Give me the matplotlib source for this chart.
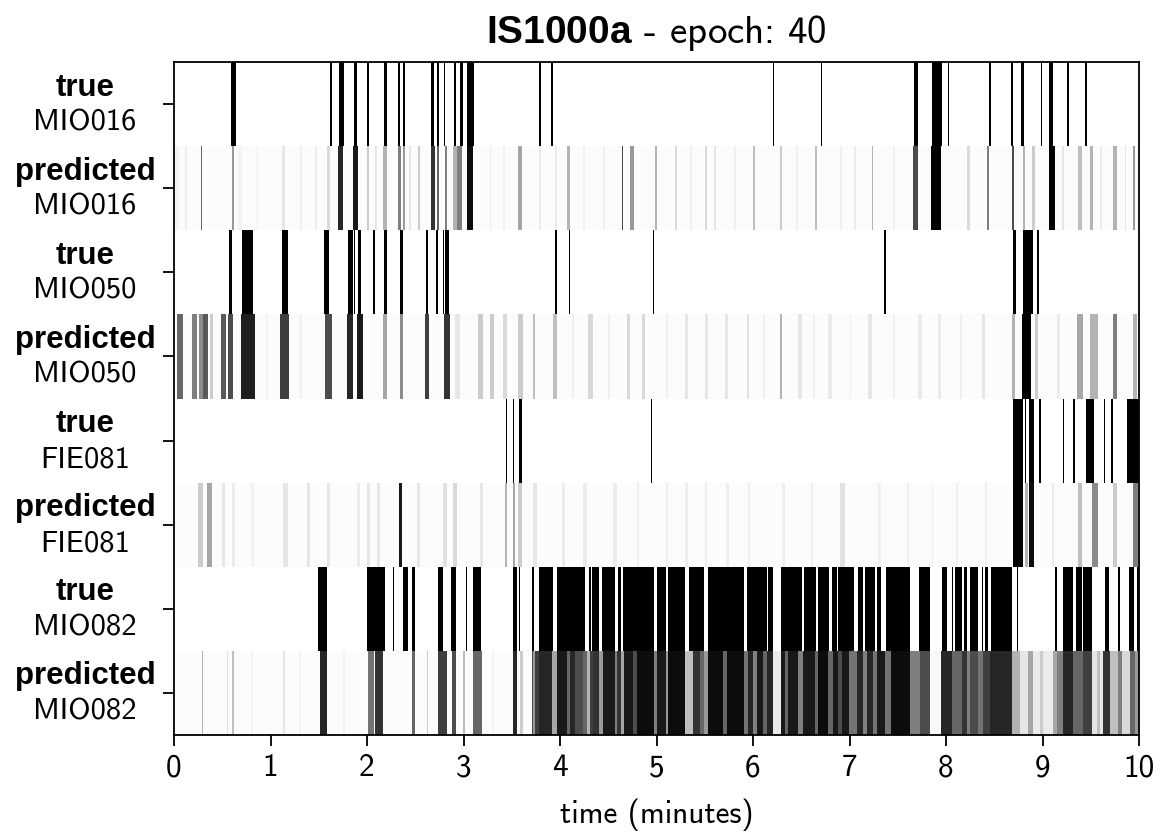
import matplotlib
matplotlib.use("Agg")
import matplotlib.pyplot as plt
from matplotlib.transforms import blended_transform_factory, offset_copy

plt.rcParams.update({
    "font.family": "cmss10",
    "mathtext.fontset": "custom",
    "mathtext.rm": "cmss10",
    "mathtext.bf": "Liberation Sans:bold",
    "axes.unicode_minus": False,
    "axes.formatter.use_mathtext": True,
})

# ---------------------------------------------------------------- data
meeting = "IS1000a"
epoch = 40
speakers = ["MIO016", "MIO050", "FIE081", "MIO082"]

# ground-truth speech activity: (start, end) in minutes
true_MIO016 = [(0.59, 0.638), (1.617, 1.637), (1.713, 1.762), (1.862, 1.90), (2.003, 2.024),
               (2.18, 2.204), (2.321, 2.342), (2.373, 2.394), (2.538, 2.544), (2.667, 2.694),
               (2.729, 2.749), (2.802, 2.808), (2.905, 2.922), (2.961, 2.992), (3.033, 3.109),
               (3.786, 3.803), (3.91, 3.93), (6.21, 6.22), (6.70, 6.712), (7.665, 7.71),
               (7.852, 7.962), (8.02, 8.027), (8.446, 8.466), (8.674, 8.697), (8.777, 8.805),
               (8.985, 8.993), (9.067, 9.112), (9.254, 9.278), (9.44, 9.464)]
true_MIO050 = [(0.573, 0.601), (0.70, 0.822), (1.116, 1.178), (1.551, 1.61), (1.806, 1.852),
               (1.866, 1.872), (1.91, 1.938), (2.065, 2.083), (2.18, 2.204), (2.342, 2.37),
               (2.611, 2.635), (2.715, 2.733), (2.786, 2.796), (2.81, 2.846), (3.948, 3.966),
               (4.095, 4.101), (4.96, 4.977), (7.358, 7.375), (8.698, 8.722), (8.80, 8.905),
               (8.94, 8.964), (9.726, 9.733)]
true_FIE081 = [(3.44, 3.45), (3.515, 3.521), (3.575, 3.603), (4.943, 4.953), (8.698, 8.80),
               (8.822, 8.828), (8.86, 8.912), (8.968, 8.985), (9.209, 9.226), (9.32, 9.34),
               (9.45, 9.53), (9.634, 9.648), (9.71, 9.73), (9.876, 10.0)]
true_MIO082 = [(1.496, 1.589), (2.003, 2.187), (2.266, 2.277), (2.377, 2.422), (2.463, 2.497),
               (2.739, 2.784), (2.87, 2.922), (3.022, 3.033), (3.102, 3.181), (3.516, 3.557),
               (3.579, 3.584), (3.707, 3.734), (3.748, 3.755), (3.786, 3.924), (3.972, 4.259),
               (4.288, 4.293), (4.304, 4.318), (4.335, 4.407), (4.432, 4.57), (4.596, 4.63),
               (4.656, 4.974), (5.009, 5.098), (5.123, 5.295), (5.337, 5.492), (5.537, 5.91),
               (5.935, 6.142), (6.158, 6.21), (6.29, 6.505), (6.528, 6.653), (6.677, 6.791),
               (6.815, 6.867), (6.884, 7.047), (7.092, 7.137), (7.161, 7.264), (7.282, 7.323),
               (7.375, 7.627), (7.654, 7.659), (7.72, 7.834), (7.955, 8.007), (8.059, 8.076),
               (8.094, 8.163), (8.187, 8.214), (8.249, 8.335), (8.37, 8.387), (8.404, 8.439),
               (8.463, 8.681), (8.713, 8.718), (8.732, 8.749), (8.878, 8.886), (8.92, 8.927),
               (9.13, 9.147), (9.209, 9.32), (9.347, 9.406), (9.423, 9.51), (9.648, 9.693),
               (9.786, 9.803), (9.9, 9.948), (9.976, 10.0)]

# network output: (start, end, probability) in minutes, on a faint base level
pred_base = 0.015
pred_MIO016 = [(0.0, 0.05, 0.05), (0.11, 0.13, 0.07), (0.276, 0.294, 0.6), (0.601, 0.618, 0.4),
               (0.66, 0.70, 0.05), (0.85, 0.87, 0.04), (1.116, 1.15, 0.1), (1.31, 1.33, 0.06),
               (1.46, 1.48, 0.07), (1.582, 1.617, 0.15), (1.703, 1.755, 0.85), (1.851, 1.91, 0.9),
               (1.996, 2.024, 0.2), (2.08, 2.10, 0.1), (2.169, 2.204, 0.3), (2.318, 2.349, 0.5),
               (2.376, 2.394, 0.4), (2.44, 2.46, 0.1), (2.532, 2.549, 0.2), (2.66, 2.705, 0.8),
               (2.722, 2.749, 0.6), (2.808, 2.832, 0.5), (2.895, 2.929, 0.3), (2.936, 2.984, 0.5),
               (3.033, 3.102, 0.95), (3.27, 3.29, 0.08), (3.41, 3.43, 0.06), (3.568, 3.603, 0.35),
               (3.78, 3.80, 0.08), (3.95, 3.97, 0.08), (4.07, 4.104, 0.3), (4.24, 4.26, 0.06),
               (4.45, 4.47, 0.06), (4.64, 4.656, 0.7), (4.725, 4.767, 0.4), (4.984, 5.0, 0.3),
               (5.192, 5.209, 0.15), (5.35, 5.37, 0.06), (5.503, 5.52, 0.15), (5.6, 5.612, 0.1),
               (5.80, 5.82, 0.06), (6.003, 6.02, 0.25), (6.279, 6.297, 0.2), (6.45, 6.47, 0.06),
               (6.642, 6.659, 0.25), (6.90, 6.92, 0.06), (7.05, 7.07, 0.08), (7.23, 7.247, 0.3),
               (7.45, 7.47, 0.06), (7.661, 7.713, 0.7), (7.845, 7.948, 1.0), (8.214, 8.249, 0.15),
               (8.421, 8.446, 0.5), (8.681, 8.709, 0.7), (8.802, 8.819, 0.3), (8.888, 8.923, 0.2),
               (9.067, 9.13, 1.0), (9.20, 9.22, 0.1), (9.371, 9.406, 0.25), (9.492, 9.526, 0.3),
               (9.60, 9.62, 0.08), (9.733, 9.768, 0.3), (9.85, 9.87, 0.1), (9.94, 9.959, 0.4)]
pred_MIO050 = [(0.035, 0.09, 0.6), (0.183, 0.242, 0.5), (0.262, 0.297, 0.45), (0.304, 0.356, 0.65),
               (0.373, 0.401, 0.2), (0.484, 0.539, 0.65), (0.563, 0.615, 0.7), (0.694, 0.839, 0.88),
               (0.95, 0.97, 0.05), (1.098, 1.195, 0.75), (1.30, 1.33, 0.05), (1.565, 1.634, 0.7),
               (1.789, 1.851, 0.85), (1.9, 1.962, 0.9), (2.169, 2.204, 0.35), (2.342, 2.376, 0.45),
               (2.601, 2.646, 0.75), (2.798, 2.86, 0.8), (2.912, 2.964, 0.1), (3.154, 3.206, 0.2),
               (3.275, 3.316, 0.2), (3.413, 3.447, 0.15), (3.568, 3.62, 0.2), (3.716, 3.741, 0.25),
               (3.931, 3.965, 0.25), (4.12, 4.15, 0.06), (4.294, 4.345, 0.15), (4.50, 4.52, 0.06),
               (4.691, 4.725, 0.15), (4.846, 4.881, 0.15), (5.10, 5.12, 0.06), (5.295, 5.33, 0.1),
               (5.503, 5.537, 0.1), (5.71, 5.744, 0.1), (5.934, 5.958, 0.12), (6.10, 6.12, 0.06),
               (6.279, 6.304, 0.3), (6.47, 6.504, 0.1), (6.62, 6.64, 0.06), (6.781, 6.815, 0.08),
               (7.0, 7.02, 0.06), (7.195, 7.23, 0.1), (7.45, 7.47, 0.06), (7.713, 7.748, 0.08),
               (7.92, 7.95, 0.08), (8.15, 8.17, 0.06), (8.37, 8.4, 0.1), (8.681, 8.715, 0.3),
               (8.785, 8.88, 1.0), (8.923, 8.958, 0.2), (9.15, 9.18, 0.08), (9.354, 9.423, 0.35),
               (9.492, 9.578, 0.3), (9.733, 9.768, 0.5), (9.94, 9.976, 0.3)]
pred_FIE081 = [(0.252, 0.304, 0.2), (0.345, 0.39, 0.35), (0.494, 0.529, 0.1), (0.598, 0.632, 0.08),
               (0.80, 0.83, 0.05), (1.133, 1.185, 0.1), (1.375, 1.409, 0.1), (1.582, 1.617, 0.1),
               (1.893, 1.927, 0.08), (1.996, 2.031, 0.1), (2.1, 2.135, 0.1), (2.328, 2.366, 0.9),
               (2.515, 2.549, 0.1), (2.791, 2.825, 0.12), (2.895, 2.929, 0.15), (3.171, 3.206, 0.1),
               (3.43, 3.454, 0.3), (3.51, 3.534, 0.35), (3.568, 3.603, 0.2), (3.724, 3.758, 0.1),
               (4.018, 4.052, 0.08), (4.241, 4.276, 0.08), (4.553, 4.587, 0.08), (4.80, 4.82, 0.06),
               (5.1, 5.12, 0.07), (5.3, 5.33, 0.07), (5.5, 5.52, 0.07), (5.72, 5.75, 0.07),
               (5.95, 5.97, 0.07), (6.3, 6.33, 0.07), (6.6, 6.62, 0.06), (6.902, 6.953, 0.12),
               (7.3, 7.33, 0.06), (7.6, 7.62, 0.06), (7.85, 7.87, 0.06), (8.1, 8.12, 0.06),
               (8.4, 8.42, 0.06), (8.698, 8.8, 1.0), (8.819, 8.853, 0.3), (8.86, 8.915, 0.95),
               (9.1, 9.12, 0.08), (9.371, 9.406, 0.25), (9.509, 9.578, 0.45), (9.733, 9.768, 0.2),
               (9.94, 9.99, 0.5)]
pred_MIO082 = [(0.287, 0.304, 0.3), (0.546, 0.563, 0.12), (0.598, 0.622, 0.25), (0.80, 0.82, 0.05),
               (1.133, 1.15, 0.1), (1.30, 1.32, 0.05), (1.513, 1.582, 0.85), (1.75, 1.77, 0.06),
               (2.014, 2.073, 0.55), (2.083, 2.169, 0.8), (2.463, 2.497, 0.6), (2.618, 2.636, 0.2),
               (2.739, 2.825, 0.75), (2.878, 2.922, 0.7), (2.99, 3.02, 0.25), (3.1, 3.188, 0.6),
               (3.30, 3.32, 0.05), (3.516, 3.551, 0.85), (3.585, 3.62, 0.2), (3.707, 3.724, 0.7),
               (3.724, 3.741, 0.4), (3.741, 3.786, 0.75), (3.786, 3.914, 0.85), (3.914, 3.965, 0.35),
               (3.965, 4.069, 0.9), (4.069, 4.104, 0.6), (4.104, 4.156, 0.85), (4.156, 4.242, 0.7),
               (4.242, 4.283, 0.6), (4.283, 4.311, 0.3), (4.311, 4.345, 0.75), (4.345, 4.407, 0.8),
               (4.407, 4.449, 0.4), (4.449, 4.57, 0.9), (4.57, 4.594, 0.5), (4.594, 4.629, 0.8),
               (4.629, 4.663, 0.35), (4.663, 4.76, 0.9), (4.76, 4.795, 0.7), (4.795, 4.974, 0.95),
               (4.974, 5.002, 0.5), (5.002, 5.098, 0.9), (5.098, 5.123, 0.4), (5.123, 5.295, 0.95),
               (5.295, 5.382, 0.25), (5.382, 5.451, 0.8), (5.451, 5.492, 0.6), (5.492, 5.537, 0.4),
               (5.537, 5.692, 0.95), (5.692, 5.727, 0.6), (5.727, 5.91, 0.95), (5.91, 5.951, 0.55),
               (5.951, 6.003, 0.85), (6.003, 6.038, 0.5), (6.038, 6.107, 0.9), (6.107, 6.142, 0.6),
               (6.142, 6.211, 0.85), (6.211, 6.291, 0.08), (6.291, 6.332, 0.9), (6.332, 6.367, 0.6),
               (6.367, 6.47, 0.9), (6.47, 6.522, 0.5), (6.522, 6.643, 0.9), (6.643, 6.678, 0.6),
               (6.678, 6.781, 0.95), (6.781, 6.833, 0.6), (6.833, 6.884, 0.9), (6.884, 6.919, 0.7),
               (6.919, 6.998, 0.9), (6.998, 7.074, 0.55), (7.074, 7.143, 0.85), (7.143, 7.178, 0.5),
               (7.178, 7.247, 0.85), (7.247, 7.282, 0.55), (7.282, 7.368, 0.9), (7.368, 7.427, 0.55),
               (7.427, 7.627, 0.95), (7.627, 7.731, 0.5), (7.731, 7.834, 0.7), (7.834, 7.945, 0.03),
               (7.945, 8.059, 0.85), (8.059, 8.163, 0.6), (8.163, 8.214, 0.8), (8.214, 8.249, 0.5),
               (8.249, 8.335, 0.7), (8.335, 8.387, 0.55), (8.387, 8.456, 0.75), (8.456, 8.681, 0.85),
               (8.681, 8.767, 0.3), (8.767, 8.853, 0.1), (8.853, 8.905, 0.35), (8.905, 8.974, 0.08),
               (8.974, 9.009, 0.2), (9.009, 9.112, 0.08), (9.112, 9.147, 0.35), (9.147, 9.209, 0.5),
               (9.209, 9.32, 0.85), (9.32, 9.423, 0.6), (9.423, 9.51, 0.75), (9.51, 9.561, 0.1),
               (9.561, 9.596, 0.25), (9.596, 9.63, 0.1), (9.63, 9.699, 0.8), (9.699, 9.786, 0.25),
               (9.786, 9.821, 0.5), (9.821, 9.907, 0.15), (9.907, 9.959, 0.6), (9.959, 10.0, 0.4)]

true_rows = [true_MIO016, true_MIO050, true_FIE081, true_MIO082]
pred_rows = [pred_MIO016, pred_MIO050, pred_FIE081, pred_MIO082]
row_kinds = ["true", "predicted"]
x_ticks = list(range(0, 11))

# ---------------------------------------------------------------- figure
fig = plt.figure(figsize=(11.73, 8.34), dpi=100)
ax = fig.add_axes([174 / 1173, 1 - 735 / 834, 965 / 1173, 673 / 834])
cmap = plt.get_cmap("gray_r")

n_rows = 2 * len(speakers)
ytick_pos, ytick_names = [], []
for k, spk in enumerate(speakers):
    # true strip
    y0 = n_rows - 1 - 2 * k
    segs = true_rows[k]
    ax.broken_barh([(s, e - s) for s, e in segs], (y0, 1),
                   facecolors="black", linewidth=0)
    ytick_pos.append(y0 + 0.5)
    ytick_names.append((row_kinds[0], spk))

    # predicted strip
    y1 = y0 - 1
    ax.broken_barh([(0, 10)], (y1, 1), facecolors=[cmap(pred_base)], linewidth=0)
    segs = pred_rows[k]
    ax.broken_barh([(s, e - s) for s, e, _ in segs], (y1, 1),
                   facecolors=[cmap(v) for _, _, v in segs], linewidth=0)
    ytick_pos.append(y1 + 0.5)
    ytick_names.append((row_kinds[1], spk))

ax.set_xlim(0, 10)
ax.set_ylim(0, n_rows)
ax.set_xticks(x_ticks)
ax.set_xticklabels([str(t) for t in x_ticks])
ax.set_yticks(ytick_pos)
ax.set_yticklabels([])

ax.tick_params(axis="both", labelsize=22.5, length=8, width=1.3)
ax.tick_params(axis="x", pad=5)
for sp in ax.spines.values():
    sp.set_linewidth(1.3)

# two-line row labels: bold kind above, speaker id below
lab_x = 85 / 1173
base = blended_transform_factory(fig.transFigure, ax.transData)
top_tr = offset_copy(base, fig=fig, x=0, y=8.5, units="dots")
bot_tr = offset_copy(base, fig=fig, x=0, y=-26.5, units="dots")
for yp, (kind, spk) in zip(ytick_pos, ytick_names):
    ax.text(lab_x, yp, kind, transform=top_tr, ha="center", va="baseline",
            fontsize=22.5, family="Liberation Sans", weight="bold", clip_on=False)
    ax.text(lab_x, yp, spk, transform=bot_tr, ha="center", va="baseline",
            fontsize=22, clip_on=False)

ax.set_xlabel("time (minutes)", fontsize=22.5, labelpad=12)
ax.set_title(r"$\mathbf{" + meeting + "}$ - epoch: " + str(epoch), fontsize=28, pad=14)

fig.savefig("out.png", dpi=100)
